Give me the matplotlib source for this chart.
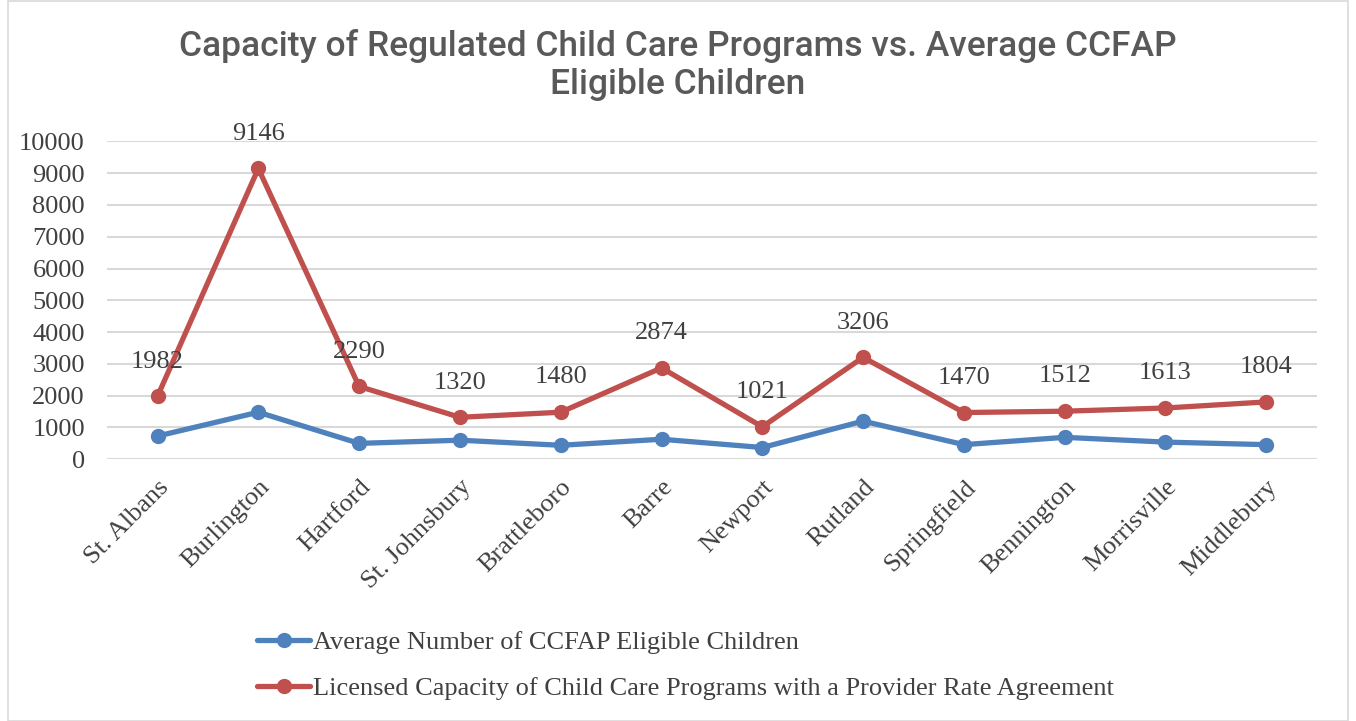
import matplotlib
matplotlib.use("Agg")
import matplotlib.pyplot as plt
import numpy as np
from matplotlib.patches import Rectangle

# data
towns = ["St. Albans", "Burlington", "Hartford", "St. Johnsbury", "Brattleboro",
         "Barre", "Newport", "Rutland", "Springfield", "Bennington",
         "Morrisville", "Middlebury"]
eligible = [730, 1480, 500, 600, 440, 630, 370, 1200, 460, 690, 540, 460]
capacity = [1982, 9146, 2290, 1320, 1480, 2874, 1021, 3206, 1470, 1512, 1613, 1804]

label_eligible = "Average Number of CCFAP Eligible Children"
label_capacity = "Licensed Capacity of Child Care Programs with a Provider Rate Agreement"

blue = "#4F81BD"
red = "#C0504D"
txt = "#404040"
serif = ["Liberation Serif", "DejaVu Serif"]
fs = 19

fig = plt.figure(figsize=(13.56, 7.21), dpi=100)
ax = fig.add_axes([0.079, 0.363, 0.892, 0.441])

x = np.arange(len(towns))
ax.plot(x, eligible, color=blue, lw=3.8, marker="o", ms=10, label=label_eligible,
        solid_capstyle="round")
ax.plot(x, capacity, color=red, lw=3.8, marker="o", ms=10, label=label_capacity,
        solid_capstyle="round")

for xi, v in zip(x, capacity):
    ax.annotate(str(v), (xi, v), xytext=(0, 25), textcoords="offset points",
                ha="center", va="center", fontsize=fs, family=serif, color=txt)

ax.set_xlim(-0.5, len(towns) - 0.5)
ax.set_ylim(0, 10000)
ax.set_yticks(np.arange(0, 10001, 1000))
ax.yaxis.grid(True, color="#D9D9D9", lw=1.5)
ax.set_axisbelow(True)
for s in ax.spines.values():
    s.set_visible(False)
ax.tick_params(length=0, colors=txt)
ax.tick_params(axis="y", pad=16)
ax.tick_params(axis="x", pad=12)
ax.set_xticks(x)
ax.set_xticklabels(towns, rotation=45, ha="right", rotation_mode="anchor")
for lab in ax.get_xticklabels() + ax.get_yticklabels():
    lab.set_family(serif)
    lab.set_fontsize(fs)
    lab.set_color(txt)

fig.suptitle("Capacity of Regulated Child Care Programs vs. Average CCFAP\nEligible Children",
             x=0.5, y=0.96, fontsize=25.5, family="Roboto", fontweight="medium",
             color="#595959", linespacing=1.2)

fig.legend(loc="upper left", bbox_to_anchor=(0.182, 0.14), frameon=False,
           prop={"family": serif, "size": fs}, labelcolor=txt, handlelength=2.0,
           handletextpad=0.1, labelspacing=0.85, borderaxespad=0)

fig.patches.append(Rectangle((0.006, 0.0), 0.988, 0.999, transform=fig.transFigure,
                             fill=False, edgecolor="#D9D9D9", lw=1.2))

fig.savefig("out.png", dpi=100, facecolor="white")
